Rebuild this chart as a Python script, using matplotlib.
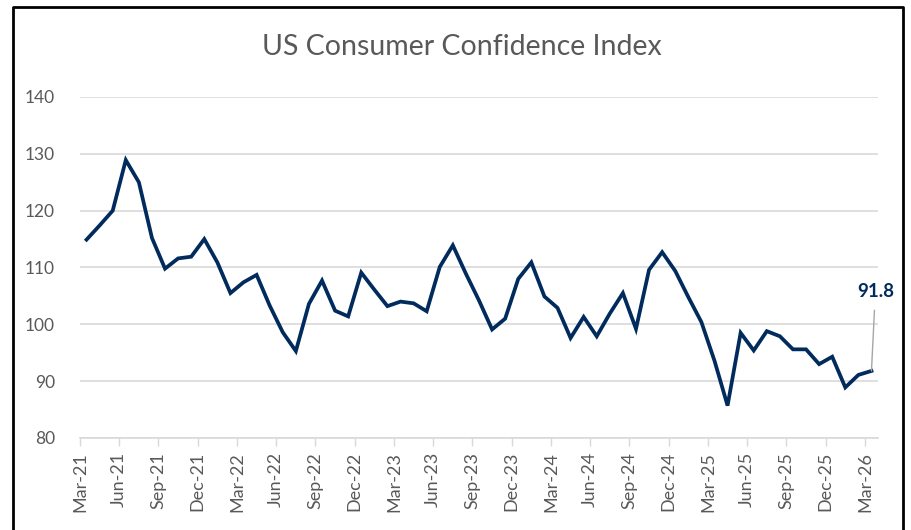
import matplotlib.pyplot as plt
from matplotlib.lines import Line2D

# monthly values, Mar-21 .. Mar-26
values = [
    114.9, 117.4, 120.0, 128.9, 125.0, 115.2, 109.8, 111.6, 111.9, 115.0,
    110.9, 105.5, 107.4, 108.7, 103.3, 98.6, 95.3, 103.6, 107.7, 102.4, 101.4, 109.1,
    106.1, 103.2, 104.0, 103.7, 102.3, 110.1, 113.9, 108.9, 104.2, 99.1, 101.0, 108.0,
    110.9, 104.9, 102.9, 97.6, 101.3, 97.9, 101.9, 105.5, 99.2, 109.6, 112.7, 109.4,
    104.8, 100.4, 93.6, 85.7, 98.5, 95.4, 98.8, 97.9, 95.6, 95.6, 93.0, 94.3,
    88.9, 91.1, 91.8,
]
tick_labels = ['Mar-21', 'Jun-21', 'Sep-21', 'Dec-21', 'Mar-22', 'Jun-22', 'Sep-22',
               'Dec-22', 'Mar-23', 'Jun-23', 'Sep-23', 'Dec-23', 'Mar-24', 'Jun-24',
               'Sep-24', 'Dec-24', 'Mar-25', 'Jun-25', 'Sep-25', 'Dec-25', 'Mar-26']
y_ticks = [80, 90, 100, 110, 120, 130, 140]
last_label = '91.8'

plt.rcParams['font.family'] = ['Lato', 'DejaVu Sans']
grey = '#595959'
navy = '#002b5c'

fig = plt.figure(figsize=(9.12, 5.30), dpi=100)
ax = fig.add_axes([80 / 912, 1 - 438 / 530, 798 / 912, 341 / 530])

x = list(range(len(values)))
ax.plot(x, values, color=navy, linewidth=2.7, solid_joinstyle='miter')

ax.set_xlim(-0.5, len(values) - 0.5)
ax.set_ylim(80, 140)
ax.set_yticks(y_ticks)
ax.set_xticks([i * 3 - 0.5 for i in range(len(tick_labels))])
ax.set_xticklabels(tick_labels, rotation=90, fontsize=13, color=grey)
ax.tick_params(axis='y', length=0, labelsize=12.5, labelcolor=grey, pad=18)
ax.tick_params(axis='x', length=6, color='#d9d9d9', width=1, pad=4)

ax.grid(axis='y', color='#d9d9d9', linewidth=1.2)
ax.set_axisbelow(True)
for s in ['top', 'right', 'left']:
    ax.spines[s].set_visible(False)
ax.spines['bottom'].set_color('#d9d9d9')
ax.spines['bottom'].set_linewidth(1.2)

# label for latest value
ax.annotate(last_label, xy=(x[-1], values[-1]), xytext=(x[-1] + 0.3, 104.2),
            ha='center', va='bottom', fontsize=13.5, fontweight='bold', color=navy,
            arrowprops=dict(arrowstyle='-', color='#a6a6a6', lw=1, shrinkA=5, shrinkB=0),
            annotation_clip=False)

fig.text(462 / 912, 1 - 47 / 530, 'US Consumer Confidence Index', ha='center', va='center',
         fontsize=20.5, color=grey)

# chart frame
bx0, bx1, by1 = 13 / 912, 903 / 912, 1 - 7 / 530
fig.add_artist(Line2D([bx0, bx0, bx1, bx1], [0, by1, by1, 0], transform=fig.transFigure,
                      color='black', linewidth=2))

fig.savefig('out.png', dpi=100)
